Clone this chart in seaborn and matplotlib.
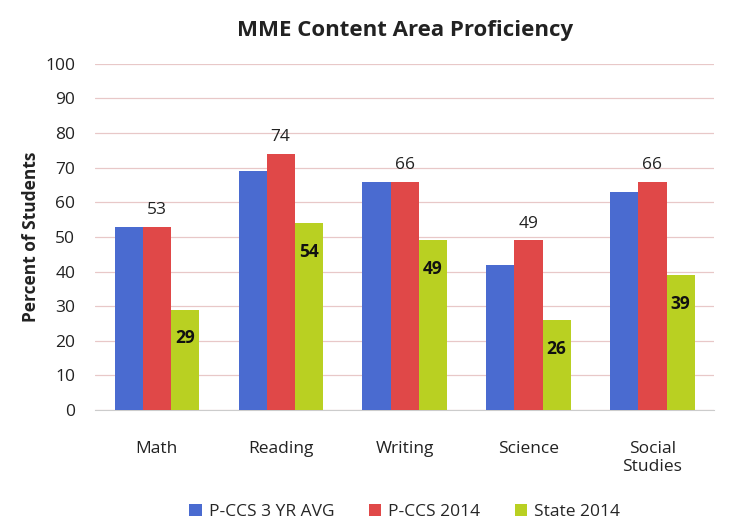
import matplotlib
matplotlib.use("Agg")
import matplotlib.pyplot as plt
import pandas as pd
import seaborn as sns

subjects = ["Math", "Reading", "Writing", "Science", "Social\nStudies"]
series_names = ["P-CCS 3 YR AVG", "P-CCS 2014", "State 2014"]
avg_3yr = [53, 69, 66, 42, 63]
pccs_2014 = [53, 74, 66, 49, 66]
state_2014 = [29, 54, 49, 26, 39]
y_ticks = [0, 10, 20, 30, 40, 50, 60, 70, 80, 90, 100]

df = pd.DataFrame({
    "Subject": subjects * 3,
    "Series": [s for s in series_names for _ in subjects],
    "Value": avg_3yr + pccs_2014 + state_2014,
})

sns.set_style("white")
plt.rcParams["font.family"] = ["Open Sans", "DejaVu Sans"]

palette = {"P-CCS 3 YR AVG": "#4a6bd0", "P-CCS 2014": "#e04848", "State 2014": "#b9d022"}

fig, ax = plt.subplots(figsize=(7.29, 5.23), dpi=100)
fig.subplots_adjust(left=0.13, right=0.98, top=0.878, bottom=0.216)

sns.barplot(data=df, x="Subject", y="Value", hue="Series", palette=palette,
            width=0.68, gap=0.0, saturation=1, edgecolor="none", ax=ax, zorder=3)

# labels: P-CCS 2014 above bars, State 2014 just inside the top
ax.bar_label(ax.containers[1], fontsize=12.5, color="#222222", padding=6)
ax.bar_label(ax.containers[2], fontsize=12.5, color="#111111", fontweight="bold",
             padding=-27)

ax.set_ylim(0, 100)
ax.set_yticks(y_ticks)
ax.tick_params(axis="y", labelsize=12.5, length=0, pad=14, labelcolor="#222222")
ax.tick_params(axis="x", labelsize=12.5, length=0, pad=22, labelcolor="#222222")
ax.yaxis.grid(True, color="#e8c8c8", linewidth=0.9, zorder=0)
for side in ["top", "right", "left"]:
    ax.spines[side].set_visible(False)
ax.spines["bottom"].set_color("#cccccc")

ax.set_xlabel("")
ax.set_ylabel("Percent of Students", fontsize=12.5, fontweight="bold", color="#222222")
ax.set_title("MME Content Area Proficiency", fontsize=16, fontweight="bold",
             color="#222222", pad=20)

ax.legend(loc="upper center", bbox_to_anchor=(0.5, -0.225), ncol=3, frameon=False,
          fontsize=12.5, handlelength=0.7, handleheight=0.7, columnspacing=2.0,
          handletextpad=0.4)

fig.savefig("out.png", dpi=100)
